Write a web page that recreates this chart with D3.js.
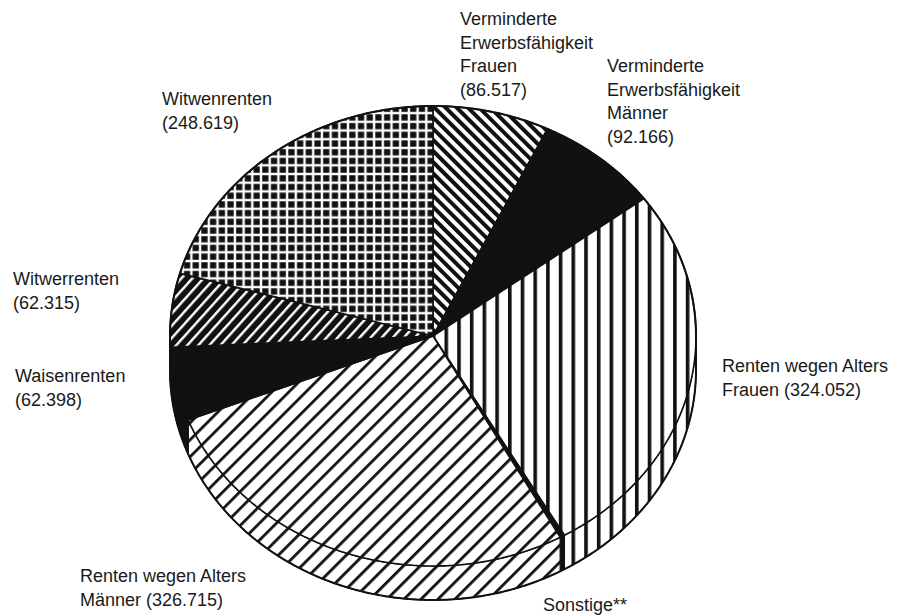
<!DOCTYPE html>
<html><head><meta charset="utf-8">
<script src="https://cdn.jsdelivr.net/npm/d3@7"></script>
<style>
html,body{margin:0;padding:0;background:#fff;}
svg{display:block;}
text{font-family:"Liberation Sans",Arial,sans-serif;font-size:18px;fill:#1a1a1a;}
</style></head>
<body>
<svg id="chart" width="899" height="616"></svg>
<script>
// ---- data ----
const categories = ["Verminderte Erwerbsfähigkeit Frauen","Verminderte Erwerbsfähigkeit Männer","Renten wegen Alters Frauen","Sonstige**","Renten wegen Alters Männer","Waisenrenten","Witwerrenten","Witwenrenten"];
const values = [86517, 92166, 324052, 3500, 326715, 62398, 62315, 248619];
const patterns = ["backslash","solid","vertical","solid","slashThin","solid","slashThick","grid"];
const labelLines = [
  ["Verminderte","Erwerbsfähigkeit","Frauen","(86.517)"],
  ["Verminderte","Erwerbsfähigkeit","Männer","(92.166)"],
  ["Renten wegen Alters","Frauen (324.052)"],
  ["Sonstige**"],
  ["Renten wegen Alters","Männer (326.715)"],
  ["Waisenrenten","(62.398)"],
  ["Witwerrenten","(62.315)"],
  ["Witwenrenten","(248.619)"]
];
const labelPos = [[460,25],[607,72],[722,372],[543,611],[80,582],[15,382],[13,285],[162,105]];

// ---- layout ----
const cx = 433, cy = 336, rx = 263, ry = 230, depth = 34, lineH = 23.5;
const svg = d3.select("#chart");
const defs = svg.append("defs");

function stripe(id, angle, period, w, bg, fg){
  const p = defs.append("pattern").attr("id", id).attr("patternUnits","userSpaceOnUse")
    .attr("width", period).attr("height", period)
    .attr("patternTransform", `rotate(${angle})`);
  p.append("rect").attr("width", period).attr("height", period).attr("fill", bg);
  p.append("rect").attr("x",0).attr("y",0).attr("width", w).attr("height", period).attr("fill", fg);
}
stripe("backslash", -45, 7.9, 4.0, "#fff", "#111");
stripe("vertical", 0, 12.7, 3.6, "#fff", "#111");
stripe("slashThin", 45, 12.0, 2.8, "#fff", "#111");
stripe("slashThick", 42, 8.2, 2.4, "#111", "#fff");
(function(){
  const period = 8.7, sq = 6.3;
  const p = defs.append("pattern").attr("id","grid").attr("patternUnits","userSpaceOnUse")
    .attr("width", period).attr("height", period);
  p.append("rect").attr("width", period).attr("height", period).attr("fill","#fff");
  p.append("rect").attr("x",1.2).attr("y",1.2).attr("width", sq).attr("height", sq).attr("fill","#111");
})();
const fillOf = k => k === "solid" ? "#111" : `url(#${k})`;

const pie = d3.pie().sort(null).value(d => d)(values);

const px = a => cx + rx * Math.sin(a);
const py = (a, off=0) => cy - ry * Math.cos(a) + off;
function arcPts(a0, a1, off){
  const n = Math.max(2, Math.ceil(Math.abs(a1 - a0) / (Math.PI/360)));
  return d3.range(n + 1).map(i => { const a = a0 + (a1 - a0) * i / n; return [px(a), py(a, off)]; });
}
const line = d3.line();

// sides
const gSide = svg.append("g");
pie.forEach((d, i) => {
  const s0 = Math.max(d.startAngle, Math.PI/2), s1 = Math.min(d.endAngle, 3*Math.PI/2);
  if (s1 <= s0) return;
  const pts = arcPts(s0, s1, 0).concat(arcPts(s1, s0, depth));
  gSide.append("path").attr("d", line(pts) + "Z")
    .attr("fill", fillOf(patterns[i])).attr("stroke", "#111").attr("stroke-width", 1.3)
    .attr("stroke-linejoin","round");
});

// tops
const gTop = svg.append("g");
pie.forEach((d, i) => {
  const pts = [[cx, cy]].concat(arcPts(d.startAngle, d.endAngle, 0));
  gTop.append("path").attr("d", line(pts) + "Z")
    .attr("fill", fillOf(patterns[i])).attr("stroke", "#111").attr("stroke-width", 1.6)
    .attr("stroke-linejoin","round");
});

// outer outline
const outline = arcPts(-Math.PI/2, Math.PI/2, 0).concat(arcPts(Math.PI/2, 3*Math.PI/2, depth));
svg.append("path").attr("d", line(outline) + "Z").attr("fill","none")
  .attr("stroke","#111").attr("stroke-width",2);

// labels
const gLab = svg.append("g");
labelLines.forEach((ls, i) => {
  const t = gLab.append("text").attr("x", labelPos[i][0]).attr("y", labelPos[i][1]);
  ls.forEach((s, j) => t.append("tspan").attr("x", labelPos[i][0]).attr("dy", j === 0 ? 0 : lineH).text(s));
});
</script>
</body></html>
